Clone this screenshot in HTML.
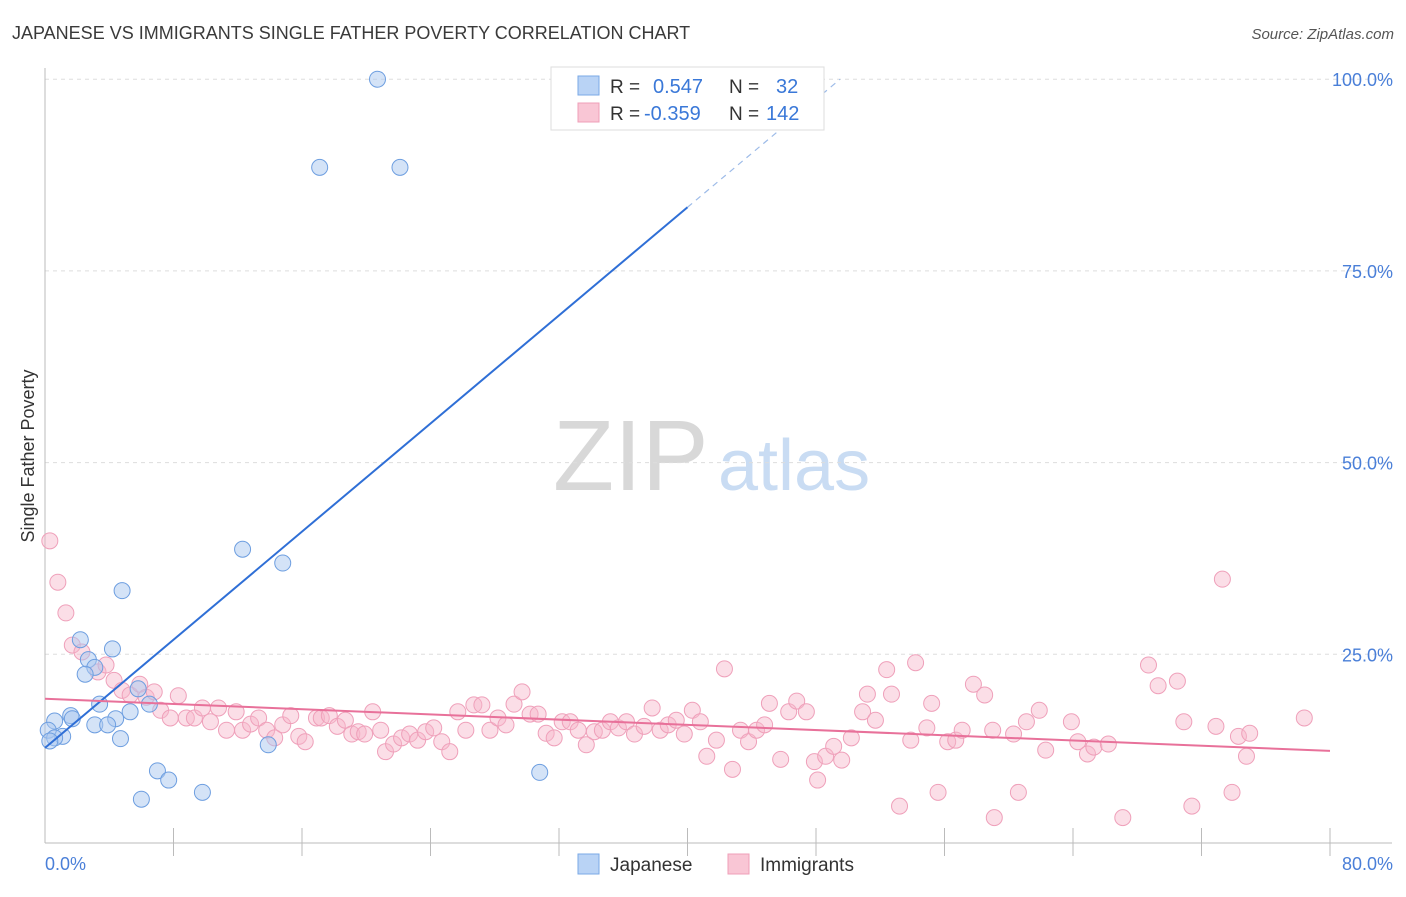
<!DOCTYPE html>
<html><head><meta charset="utf-8"><style>
body{margin:0;background:#fff;font-family:"Liberation Sans",sans-serif;}
svg text{font-family:"Liberation Sans",sans-serif;}
</style></head><body>
<svg id="chart" width="1406" height="892" viewBox="0 0 1406 892" xmlns="http://www.w3.org/2000/svg">
<text x="12" y="39" font-size="18" fill="#3a3a3a">JAPANESE VS IMMIGRANTS SINGLE FATHER POVERTY CORRELATION CHART</text>
<text x="1394" y="39" font-size="15" fill="#555" font-style="italic" text-anchor="end">Source: ZipAtlas.com</text>
<g>
<text x="553" y="490" font-size="100" fill="#d8d8d8" font-family="Liberation Serif,serif">ZIP</text>
<text x="718" y="490" font-size="72" fill="#c9dcf3">atlas</text>
</g>
<g id="grid"></g>
<g id="axes"></g>
<g id="marks"></g>
<text transform="translate(34,456) rotate(-90)" font-size="18" fill="#333" text-anchor="middle">Single Father Poverty</text>
<g>
<rect x="551" y="67" width="273" height="63" fill="#fff" stroke="#ddd"/>
<rect x="578" y="76" width="21" height="19" fill="#b9d3f5" stroke="#7aa8e6"/>
<rect x="578" y="103" width="21" height="19" fill="#f9c6d5" stroke="#ef9fb8"/>
<text x="610" y="93" font-size="19" fill="#333">R = </text><text x="653" y="93" font-size="20" fill="#3a78d8">0.547</text>
<text x="729" y="93" font-size="19" fill="#333">N = </text><text x="776" y="93" font-size="20" fill="#3a78d8">32</text>
<text x="610" y="120" font-size="19" fill="#333">R = </text><text x="644" y="120" font-size="20" fill="#3a78d8">-0.359</text>
<text x="729" y="120" font-size="19" fill="#333">N = </text><text x="766" y="120" font-size="20" fill="#3a78d8">142</text>
</g>
<g>
<rect x="578" y="854" width="21" height="20" fill="#b9d3f5" stroke="#7aa8e6"/>
<text x="610" y="871" font-size="19" fill="#333">Japanese</text>
<rect x="728" y="854" width="21" height="20" fill="#f9c6d5" stroke="#ef9fb8"/>
<text x="760" y="871" font-size="19" fill="#333">Immigrants</text>
</g>
</svg>
<script>
const xTicks=[0,8,16,24,32,40,48,56,64,72,80];
const yTicks=[25,50,75,100];
const yTickLabels=["25.0%","50.0%","75.0%","100.0%"];
const xEndLabels=["0.0%","80.0%"];
const japX=[20.7,17.1,22.1,12.3,14.8,4.8,2.2,4.2,2.7,3.1,2.5,5.8,3.4,6.5,5.3,1.6,1.7,0.6,4.4,3.1,3.9,0.2,1.1,0.6,4.7,0.3,13.9,7.0,30.8,7.7,9.8,6.0];
const japY=[100,88.5,88.5,38.7,36.9,33.3,26.9,25.7,24.3,23.3,22.4,20.5,18.5,18.5,17.5,17.0,16.6,16.3,16.6,15.8,15.8,15.1,14.3,14.1,14.0,13.7,13.2,9.8,9.6,8.6,7.0,6.1];
const immX=[0.3,0.8,1.3,1.7,2.3,3.3,3.8,4.3,4.8,5.3,5.9,6.3,6.8,7.2,7.8,8.3,8.8,9.3,9.8,10.3,10.8,11.3,11.9,12.3,12.8,13.3,13.8,14.3,14.8,15.3,15.8,16.2,16.9,17.2,17.7,18.2,18.7,19.1,19.5,19.9,20.4,20.9,21.2,21.7,22.2,22.7,23.2,23.7,24.2,24.7,25.2,25.7,26.2,26.7,27.2,27.7,28.2,28.7,29.2,29.7,30.2,30.7,31.2,31.7,32.2,32.7,33.2,33.7,34.2,34.7,35.2,35.7,36.2,36.7,37.3,37.8,38.3,38.8,39.3,39.8,40.3,40.8,41.2,41.8,42.3,42.8,43.3,43.8,44.3,44.8,45.1,45.8,46.3,46.8,47.4,47.9,48.1,48.6,49.1,49.6,50.2,50.9,51.2,51.7,52.4,52.7,53.2,53.9,54.2,54.9,55.2,55.6,56.2,56.7,57.1,57.8,58.5,59.1,59.0,60.3,60.6,61.1,61.9,62.3,63.9,64.3,64.9,65.3,66.2,67.1,68.7,69.3,70.5,70.9,71.4,72.9,73.3,73.9,74.3,74.8,75.0,78.4];
const immY=[39.8,34.4,30.4,26.2,25.3,22.7,23.6,21.6,20.3,19.7,21.1,19.4,20.1,17.7,16.7,19.6,16.7,16.7,18.0,16.2,18.0,15.1,17.5,15.1,15.9,16.7,15.1,14.1,15.8,17.0,14.3,13.6,16.7,16.7,17.0,15.6,16.4,14.6,14.9,14.6,17.5,15.1,12.3,13.3,14.1,14.6,13.8,14.9,15.4,13.6,12.3,17.5,15.1,18.4,18.4,15.1,16.7,15.8,18.5,20.1,17.2,17.2,14.7,14.1,16.2,16.2,15.1,13.2,14.9,15.1,16.2,15.4,16.2,14.6,15.6,18.0,15.1,15.8,16.4,14.6,17.7,16.2,11.7,13.8,23.1,10.0,15.1,13.6,15.1,15.8,18.6,11.3,17.5,18.9,17.5,11.0,8.6,11.7,13.0,11.2,14.1,17.5,19.8,16.4,23.0,19.8,5.2,13.8,23.9,15.4,18.6,7.0,13.6,13.8,15.1,21.1,19.7,3.7,15.1,14.6,7.0,16.2,17.7,12.5,16.2,13.6,12.0,12.9,13.3,3.7,23.6,20.9,21.5,16.2,5.2,15.6,34.8,7.0,14.3,11.7,14.7,16.7];
const japTrendX=[0,40,49.5];
const japTrendY=[12.8,83.3,100];
const immTrendX=[0,80];
const immTrendY=[19.2,12.4];

const NS="http://www.w3.org/2000/svg";
const X0=45,X1=1330,Y0=846,PX=(X1-X0)/80,PY=191.7/25;
const sx=v=>X0+v*PX, sy=v=>Y0-v*PY;
function mk(tag,attrs,parent,txt){const e=document.createElementNS(NS,tag);for(const k in attrs)e.setAttribute(k,attrs[k]);if(txt!=null)e.textContent=txt;parent.appendChild(e);return e;}
const grid=document.getElementById('grid'),axes=document.getElementById('axes'),marks=document.getElementById('marks');
yTicks.forEach((t,i)=>{
 const l=mk('line',{x1:45,x2:1392,y1:sy(t),y2:sy(t),stroke:'#ddd','stroke-dasharray':'4,4'},grid);
 
 
 const tx=mk('text',{x:1393,y:sy(t)+7,'font-size':18,fill:'#4a7fd8','text-anchor':'end'},axes,yTickLabels[i]);
 
 
});
const ax=mk('line',{x1:45,x2:1392,y1:843,y2:843,stroke:'#bbb'},axes);


const ay=mk('line',{x1:45,x2:45,y1:68,y2:843,stroke:'#bbb'},axes);


xTicks.forEach(t=>{if(t===0)return;
 const l=mk('line',{x1:sx(t),x2:sx(t),y1:828,y2:856,stroke:'#bbb'},axes);
 
 
});
const xl0=mk('text',{x:45,y:870,'font-size':18,fill:'#4a7fd8'},axes,xEndLabels[0]);


const xl1=mk('text',{x:1393,y:870,'font-size':18,fill:'#4a7fd8','text-anchor':'end'},axes,xEndLabels[1]);



immX.forEach((v,i)=>{
 const c=mk('circle',{cx:sx(v),cy:sy(immY[i]),r:8,fill:'rgba(246,182,202,0.45)',stroke:'#efa0ba','stroke-width':1},marks);
 
 
});
japX.forEach((v,i)=>{
 const c=mk('circle',{cx:sx(v),cy:sy(japY[i]),r:8,fill:'rgba(170,200,240,0.5)',stroke:'#6d9ee0','stroke-width':1},marks);
 
 
});
const jl=mk('line',{x1:sx(japTrendX[0]),y1:sy(japTrendY[0]),x2:sx(japTrendX[1]),y2:sy(japTrendY[1]),stroke:'#2f6fd6','stroke-width':2},marks);


const jd=mk('line',{x1:sx(japTrendX[1]),y1:sy(japTrendY[1]),x2:sx(japTrendX[2]),y2:sy(japTrendY[2]),stroke:'#9dbbe8','stroke-width':1.2,'stroke-dasharray':'6,5'},marks);


const il=mk('line',{x1:sx(immTrendX[0]),y1:sy(immTrendY[0]),x2:sx(immTrendX[1]),y2:sy(immTrendY[1]),stroke:'#e8719a','stroke-width':2},marks);


</script>
</body></html>
